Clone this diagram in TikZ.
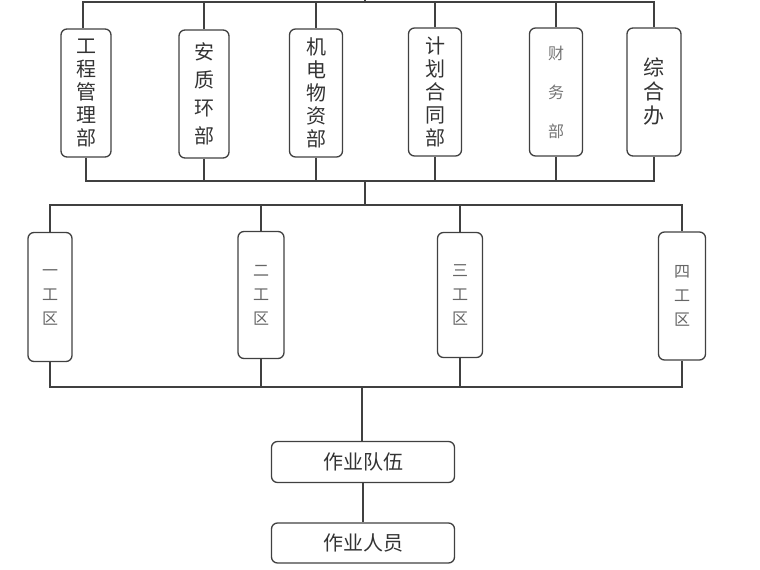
\documentclass[tikz,border=0pt]{standalone}
\usepackage{fontspec}
\newfontfamily\cjk{Noto Sans CJK SC}
\usepackage{tikz}
\usetikzlibrary{positioning,calc}

\begin{document}
\begin{tikzpicture}[
    x=1pt, y=-1pt,
    box/.style={draw=black!75, line width=1.3pt, rounded corners=6pt, align=center, inner sep=0pt, text=black!80},
    dept/.style={box, minimum width=50pt, minimum height=128pt, font=\cjk\fontsize{20}{23}\selectfont},
    zone/.style={box, minimum width=45pt, minimum height=127pt, text=black!60, font=\cjk\fontsize{16}{24}\selectfont},
    team/.style={box, minimum width=183pt, minimum height=41pt, font=\cjk\fontsize{20}{24}\selectfont},
    link/.style={draw=black!75, line width=1.3pt}
]
    \useasboundingbox (0,0) rectangle (760,570);

    % Departments
    \node[dept] (gc) at (86,93) {工\\程\\管\\理\\部};
    \node[dept, font=\cjk\fontsize{20}{28}\selectfont] (aq) at (204,94) {安\\质\\环\\部};
    \node[dept, minimum width=53pt] (jd) at (316,93) {机\\电\\物\\资\\部};
    \node[dept, minimum width=53pt] (jh) at (435,92) {计\\划\\合\\同\\部};
    \node[dept, minimum width=53pt, text=black!55, font=\cjk\fontsize{16}{39}\selectfont] (cw) at (556,92) {财\\务\\部};
    \node[dept, minimum width=54pt, font=\cjk\fontsize{21}{24}\selectfont] (zh) at (654,92) {综\\合\\办};

    % Work zones
    \node[zone, minimum width=44pt, minimum height=129pt] (z1) at (50,297) {一\\工\\区};
    \node[zone, minimum width=46pt] (z2) at (261,295) {二\\工\\区};
    \node[zone, minimum height=125pt] (z3) at (460,295) {三\\工\\区};
    \node[zone, minimum width=47pt, minimum height=128pt] (z4) at (682,296) {四\\工\\区};

    % Teams and staff
    \node[team] (dw) at (363,462) {作业队伍};
    \node[team, minimum height=40pt] (ry) at (363,543) {作业人员};

    % Bus coordinates
    \coordinate (up) at (365,0);
    \coordinate (topbus) at (365,2);
    \coordinate (midbus) at (365,181);
    \coordinate (zonebus) at (365,205);
    \coordinate (lowbus) at (362,387);

    % Top bus
    \draw[link] (up) -- (topbus);
    \draw[link] (gc.north -| 83,0) |- (zh.north |- topbus) -- (zh.north);
    \foreach \n in {aq,jd,jh,cw}
        \draw[link] (\n.north) -- (\n.north |- topbus);

    % Middle bus
    \draw[link] (gc.south) |- (zh.south |- midbus) -- (zh.south);
    \foreach \n in {aq,jd,jh,cw}
        \draw[link] (\n.south) -- (\n.south |- midbus);
    \draw[link] (midbus) -- (zonebus);

    % Zone buses
    \draw[link] (z1.north) |- (z4.north |- zonebus) -- (z4.north);
    \foreach \n in {z2,z3}
        \draw[link] (\n.north) -- (\n.north |- zonebus);
    \draw[link] (z1.south) |- (z4.south |- lowbus) -- (z4.south);
    \foreach \n in {z2,z3}
        \draw[link] (\n.south) -- (\n.south |- lowbus);

    % Down to teams
    \draw[link] (lowbus) -- (dw.north -| lowbus);
    \draw[link] (dw) -- (ry);
\end{tikzpicture}
\end{document}
